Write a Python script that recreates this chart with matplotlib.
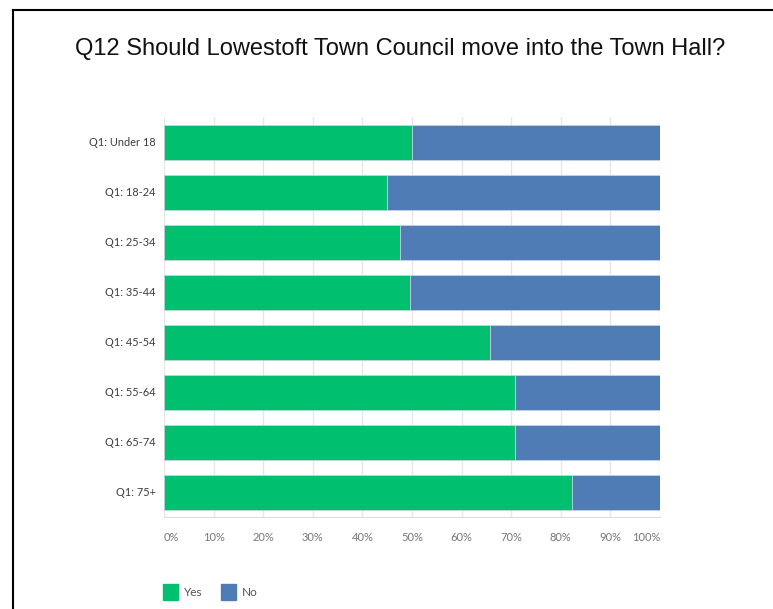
from matplotlib import pyplot as plt
from matplotlib.patches import Rectangle
from matplotlib.lines import Line2D

categories = ['Q1: Under 18', 'Q1: 18-24', 'Q1: 25-34', 'Q1: 35-44',
              'Q1: 45-54', 'Q1: 55-64', 'Q1: 65-74', 'Q1: 75+']
yes_pct = [50.0, 45.0, 47.6, 49.5, 65.7, 70.8, 70.8, 82.2]
no_pct = [100 - v for v in yes_pct]
x_ticks = [0, 10, 20, 30, 40, 50, 60, 70, 80, 90, 100]
x_labels = ['0%', '10%', '20%', '30%', '40%', '50%', '60%', '70%', '80%', '90%', '100%']

green = '#00bf6f'
blue = '#507cb6'

W, H = 773, 609
fig = plt.figure(figsize=(W / 100, H / 100), dpi=100)
fig.patch.set_facecolor('white')

# plot area in pixels: x 164..660, y 117..517
ax = fig.add_axes([164 / W, 1 - 517 / H, (660 - 164) / W, 400 / H])
ypos = list(range(len(categories)))
ax.barh(ypos, yes_pct, height=0.7, color=green, edgecolor='#c8d6ea', linewidth=0.5, zorder=3)
ax.barh(ypos, no_pct, left=yes_pct, height=0.7, color=blue, edgecolor='#c8d6ea', linewidth=0.5, zorder=3)
ax.set_xlim(0, 100)
ax.set_ylim(len(categories) - 0.5, -0.5)
ax.set_yticks(ypos)
ax.set_yticklabels(categories, fontsize=7.9, color='#3d3d3d', family='Lato')
ax.set_xticks(x_ticks)
ax.set_xticklabels(x_labels, fontsize=8, color='#777777', family='Lato')
xt = ax.get_xticklabels()
xt[0].set_ha('left')
xt[-1].set_ha('right')
ax.tick_params(length=0)
ax.tick_params(axis='y', pad=6)
ax.tick_params(axis='x', pad=11)
ax.grid(axis='x', color='#e6e6e6', linewidth=1, zorder=0)
for s in ['top', 'right', 'left']:
    ax.spines[s].set_visible(False)
ax.spines['bottom'].set_color('#dddddd')

fig.text(400 / W, 1 - 49 / H, 'Q12 Should Lowestoft Town Council move into the Town Hall?',
         ha='center', va='center', fontsize=17, family='Liberation Sans', color='#111111')

# legend
handles = [Rectangle((0, 0), 1, 1, color=green), Rectangle((0, 0), 1, 1, color=blue)]
leg = fig.legend(handles, ['Yes', 'No'], loc='center left', bbox_to_anchor=(152 / W, 1 - 592 / H),
                 ncol=2, frameon=False, handlelength=1.27, handleheight=1.6,
                 columnspacing=1.6, handletextpad=0.5, prop={'family': 'Lato', 'size': 8.5})
for t in leg.get_texts():
    t.set_color('#555555')

# frame border (top and left visible)
fig.add_artist(Line2D([13 / W, 13 / W], [0, 1 - 10 / H], color='black', linewidth=1.5,
                      transform=fig.transFigure))
fig.add_artist(Line2D([13 / W, 1], [1 - 10 / H, 1 - 10 / H], color='black', linewidth=1.5,
                      transform=fig.transFigure))

fig.savefig('out.png', dpi=100)
